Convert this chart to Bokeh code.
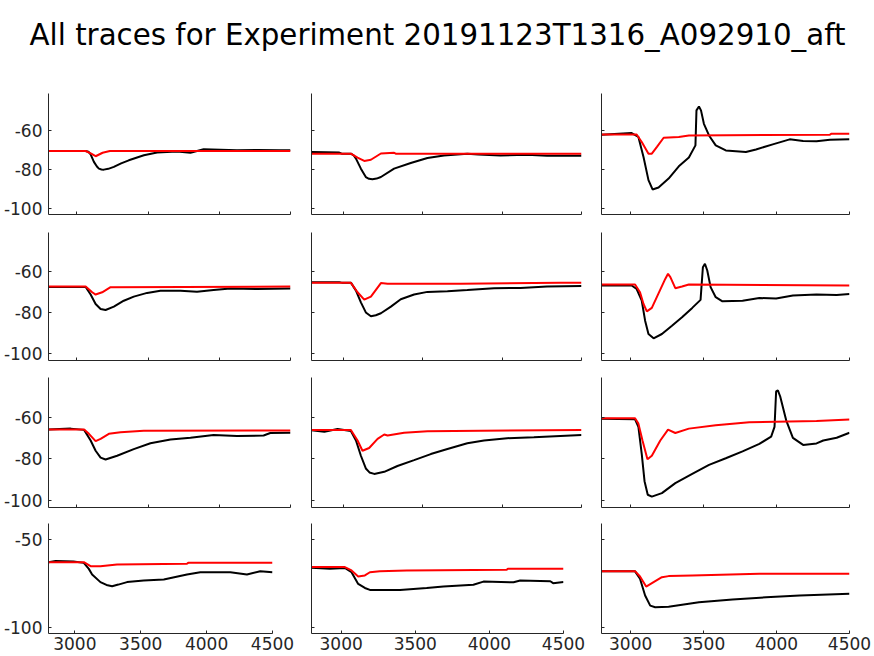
from bokeh.plotting import figure
from bokeh.layouts import column, row
from bokeh.models import FixedTicker, Range1d, Spacer
from bokeh.embed import file_html
from bokeh.resources import INLINE

TITLE = "All traces for Experiment 20191123T1316_A092910_aft"
X_TICKS = [3000, 3500, 4000, 4500]
Y_TICKS_UPPER = [-100, -80, -60]
Y_TICKS_LOWER = [-100, -50]
X_LIMITS = (2800, 4500)
Y_LIMITS = (-103.3, -41.0)

# ---- row 1 ----
r1c1_black_x = [2800, 3061, 3080, 3096, 3119, 3140, 3154, 3172, 3189, 3220, 3259, 3310, 3364, 3470, 3563, 3703, 3797, 3890, 4007, 4124, 4264, 4428, 4500]
r1c1_black_y = [-70.6, -70.6, -71.0, -72.3, -76.2, -78.6, -79.7, -80.1, -80.2, -79.8, -78.8, -77.0, -75.4, -72.8, -71.4, -70.9, -71.5, -69.7, -69.9, -70.2, -70.1, -70.2, -70.2]
r1c1_red_x = [2800, 3061, 3100, 3131, 3180, 3231, 4500]
r1c1_red_y = [-70.6, -70.6, -72.0, -73.3, -71.5, -70.6, -70.6]

r1c2_black_x = [2800, 2975, 2990, 3048, 3065, 3080, 3111, 3142, 3162, 3184, 3210, 3237, 3320, 3425, 3530, 3634, 3781, 3850, 3990, 4157, 4283, 4500]
r1c2_black_y = [-71.1, -71.4, -72.0, -72.0, -72.8, -74.5, -79.7, -84.0, -84.9, -85.1, -84.8, -84.0, -79.7, -76.8, -74.2, -72.9, -72.0, -72.4, -72.9, -72.6, -73.0, -73.0]
r1c2_red_x = [2800, 3048, 3090, 3132, 3174, 3237, 3320, 3330, 4500]
r1c2_red_y = [-72.0, -72.0, -74.0, -75.7, -75.1, -71.9, -71.5, -72.0, -72.0]

r1c3_black_x = [2800, 3007, 3053, 3088, 3122, 3150, 3191, 3260, 3330, 3399, 3444, 3451, 3468, 3482, 3502, 3537, 3583, 3652, 3790, 3859, 3974, 4090, 4182, 4274, 4366, 4500]
r1c3_black_y = [-62.2, -61.4, -63.4, -73.7, -85.6, -90.4, -89.4, -84.8, -78.5, -74.0, -67.7, -49.7, -47.7, -49.7, -56.6, -62.6, -67.7, -70.3, -71.1, -69.8, -67.2, -64.6, -65.4, -65.6, -64.8, -64.6]
r1c3_red_x = [2800, 3041, 3076, 3122, 3145, 3180, 3226, 3330, 3399, 4366, 4377, 4500]
r1c3_red_y = [-62.1, -62.1, -66.0, -72.0, -72.0, -68.5, -63.8, -63.4, -62.6, -62.2, -61.7, -61.7]

# ---- row 2 ----
r2c1_black_x = [2800, 3061, 3096, 3131, 3166, 3201, 3259, 3329, 3399, 3493, 3586, 3727, 3843, 3960, 4077, 4264, 4500]
r2c1_black_y = [-67.5, -67.5, -71.2, -75.8, -78.2, -78.7, -77.1, -74.2, -72.2, -70.4, -69.3, -69.3, -69.8, -69.0, -68.3, -68.5, -68.3]
r2c1_red_x = [2800, 3061, 3107, 3131, 3177, 3236, 4500]
r2c1_red_y = [-67.3, -67.3, -70.1, -71.2, -70.1, -67.6, -67.3]

r2c2_black_x = [2800, 2975, 2990, 3048, 3080, 3111, 3142, 3174, 3205, 3237, 3300, 3362, 3446, 3530, 3656, 3781, 3949, 4116, 4283, 4500]
r2c2_black_y = [-65.2, -65.2, -65.4, -65.4, -69.3, -75.0, -79.9, -81.8, -81.3, -80.3, -77.1, -73.5, -71.2, -69.9, -69.6, -69.0, -68.1, -68.0, -67.3, -67.0]
r2c2_red_x = [2800, 3048, 3090, 3132, 3174, 3237, 3279, 3739, 4367, 4500]
r2c2_red_y = [-65.5, -65.5, -70.1, -73.7, -72.2, -65.6, -65.9, -65.9, -65.5, -65.5]

r2c3_black_x = [2800, 3007, 3041, 3076, 3099, 3122, 3157, 3214, 3283, 3352, 3422, 3479, 3495, 3509, 3525, 3548, 3583, 3629, 3767, 3882, 3997, 4112, 4274, 4412, 4500]
r2c3_black_y = [-66.8, -66.8, -68.5, -74.2, -83.9, -90.4, -92.5, -90.4, -86.4, -82.3, -77.7, -73.8, -57.9, -56.2, -59.5, -67.6, -72.5, -74.5, -74.2, -72.9, -73.1, -71.7, -71.2, -71.4, -70.9]
r2c3_red_x = [2800, 3030, 3064, 3088, 3111, 3145, 3191, 3237, 3256, 3272, 3306, 3352, 3399, 4500]
r2c3_red_y = [-66.3, -66.3, -70.1, -75.8, -79.4, -77.7, -70.6, -63.6, -61.1, -62.7, -68.1, -67.3, -66.3, -66.8]

# ---- row 3 ----
r3c1_black_x = [2800, 2956, 3050, 3096, 3131, 3166, 3201, 3282, 3399, 3516, 3657, 3797, 3960, 4124, 4311, 4358, 4500]
r3c1_black_y = [-65.9, -65.5, -66.1, -71.2, -76.1, -79.4, -80.3, -78.5, -75.3, -72.5, -70.7, -69.9, -68.6, -69.0, -68.8, -67.6, -67.5]
r3c1_red_x = [2800, 3050, 3084, 3131, 3166, 3224, 3306, 3469, 4500]
r3c1_red_y = [-65.9, -65.9, -68.0, -71.5, -70.4, -68.0, -67.2, -66.5, -66.4]

r3c2_black_x = [2800, 2881, 2964, 3048, 3080, 3111, 3142, 3165, 3195, 3258, 3341, 3446, 3551, 3656, 3781, 3886, 4032, 4200, 4367, 4500]
r3c2_black_y = [-66.3, -67.0, -65.7, -66.6, -71.2, -78.5, -84.6, -86.5, -87.2, -86.2, -83.4, -80.6, -77.7, -75.3, -72.5, -71.2, -70.1, -69.6, -69.0, -68.6]
r3c2_red_x = [2800, 3048, 3090, 3121, 3163, 3216, 3258, 3279, 3383, 3530, 3865, 4500]
r3c2_red_y = [-66.2, -66.2, -71.2, -76.1, -74.8, -70.4, -68.3, -68.8, -67.5, -66.7, -66.5, -66.2]

r3c3_black_x = [2800, 3030, 3053, 3076, 3095, 3117, 3145, 3214, 3306, 3422, 3537, 3652, 3767, 3882, 3963, 3986, 3997, 4009, 4025, 4066, 4112, 4182, 4274, 4320, 4412, 4500]
r3c3_black_y = [-60.8, -61.0, -64.7, -77.7, -90.7, -97.2, -98.1, -96.4, -91.6, -87.2, -82.9, -79.7, -76.4, -72.8, -69.3, -64.7, -47.7, -47.2, -50.1, -61.5, -69.9, -73.3, -72.6, -71.2, -69.9, -67.5]
r3c3_red_x = [2800, 3030, 3053, 3081, 3115, 3145, 3203, 3256, 3306, 3399, 3583, 3813, 4274, 4500]
r3c3_red_y = [-60.5, -60.5, -63.1, -71.2, -80.2, -78.5, -71.2, -66.0, -67.6, -65.5, -63.9, -62.4, -61.8, -61.1]

# ---- row 4 ----
r4c1_black_x = [2800, 2854, 2990, 3068, 3106, 3131, 3194, 3240, 3283, 3330, 3396, 3523, 3675, 3851, 3952, 4180, 4306, 4407, 4500]
r4c1_black_y = [-62.9, -62.3, -62.5, -63.3, -66.7, -69.9, -74.2, -75.8, -76.5, -75.6, -74.2, -73.3, -72.7, -69.9, -68.6, -68.6, -69.9, -68.0, -68.6]
r4c1_red_x = [2800, 3068, 3119, 3194, 3320, 3851, 3860, 4500]
r4c1_red_y = [-62.9, -62.9, -65.2, -65.2, -64.2, -63.8, -63.3, -63.3]

r4c2_black_x = [2800, 2924, 3025, 3070, 3115, 3160, 3194, 3397, 3577, 3690, 3892, 3960, 4163, 4208, 4411, 4430, 4500]
r4c2_black_y = [-66.1, -66.6, -66.2, -68.6, -75.2, -77.5, -78.6, -78.6, -77.5, -76.7, -75.7, -73.9, -74.3, -73.3, -73.7, -74.8, -74.1]
r4c2_red_x = [2800, 3025, 3070, 3115, 3160, 3194, 3261, 3442, 4117, 4125, 4500]
r4c2_red_y = [-65.7, -65.7, -67.6, -71.0, -70.4, -68.6, -68.0, -67.6, -67.2, -66.6, -66.6]

r4c3_black_x = [2800, 3030, 3064, 3099, 3134, 3168, 3260, 3468, 3698, 3928, 4159, 4500]
r4c3_black_y = [-68.1, -68.1, -72.3, -81.8, -87.5, -88.4, -88.1, -85.6, -84.1, -82.8, -81.8, -80.8]
r4c3_red_x = [2800, 3030, 3064, 3106, 3157, 3214, 3260, 3422, 3882, 4500]
r4c3_red_y = [-68.0, -68.0, -71.0, -76.7, -74.2, -71.4, -70.8, -70.4, -69.5, -69.5]

FONT = "DejaVu Sans"
TEXT_COLOR = "#262626"


def make_panel(bx, by, rx, ry, fw, fh, bl, br, bt, bb, yticks, show_x, show_y):
    p = figure(frame_width=fw, frame_height=fh,
               x_range=Range1d(*X_LIMITS), y_range=Range1d(*Y_LIMITS),
               output_backend="svg", toolbar_location=None,
               min_border_left=bl, min_border_right=br,
               min_border_top=bt, min_border_bottom=bb)
    p.line(bx, by, line_color="black", line_width=2)
    p.line(rx, ry, line_color="red", line_width=2)
    p.grid.visible = False
    p.outline_line_color = None
    for ax, ticks, show in ((p.xaxis[0], X_TICKS, show_x), (p.yaxis[0], yticks, show_y)):
        ax.ticker = FixedTicker(ticks=ticks)
        ax.axis_line_color = TEXT_COLOR
        ax.axis_line_width = 1
        ax.major_tick_line_color = TEXT_COLOR
        ax.major_tick_in = 3
        ax.major_tick_out = 0
        ax.minor_tick_line_color = None
        ax.major_label_text_font = FONT
        ax.major_label_overrides = {t: str(t) for t in ticks}
        if show:
            ax.major_label_text_font_size = "17px"
            ax.major_label_text_color = TEXT_COLOR
        else:
            ax.major_label_text_font_size = "1px"
            ax.major_label_text_color = None
        ax.major_label_standoff = 0
    if show_x:
        p.xaxis[0].major_label_standoff = 3
    if show_y:
        p.yaxis[0].major_label_standoff = 6
    return p


# (frame_width, border_left, border_right) per column
COLS_UPPER = [(242, 45, 11), (270, 10, 10), (248, 10, 28)]
COLS_LOWER = [(224, 45, 29), (252, 10, 28), (248, 10, 28)]
# (frame_height, border_top, border_bottom) per row
ROWS = [(121, 9, 9), (128, 9, 8), (130, 9, 8), (110, 8, 23)]

data = [
    [(r1c1_black_x, r1c1_black_y, r1c1_red_x, r1c1_red_y),
     (r1c2_black_x, r1c2_black_y, r1c2_red_x, r1c2_red_y),
     (r1c3_black_x, r1c3_black_y, r1c3_red_x, r1c3_red_y)],
    [(r2c1_black_x, r2c1_black_y, r2c1_red_x, r2c1_red_y),
     (r2c2_black_x, r2c2_black_y, r2c2_red_x, r2c2_red_y),
     (r2c3_black_x, r2c3_black_y, r2c3_red_x, r2c3_red_y)],
    [(r3c1_black_x, r3c1_black_y, r3c1_red_x, r3c1_red_y),
     (r3c2_black_x, r3c2_black_y, r3c2_red_x, r3c2_red_y),
     (r3c3_black_x, r3c3_black_y, r3c3_red_x, r3c3_red_y)],
    [(r4c1_black_x, r4c1_black_y, r4c1_red_x, r4c1_red_y),
     (r4c2_black_x, r4c2_black_y, r4c2_red_x, r4c2_red_y),
     (r4c3_black_x, r4c3_black_y, r4c3_red_x, r4c3_red_y)],
]

title_fig = figure(width=874, height=74, output_backend="svg", toolbar_location=None,
                   title=TITLE, min_border=0,
                   x_range=Range1d(0, 1), y_range=Range1d(0, 1))
title_fig.axis.visible = False
title_fig.grid.visible = False
title_fig.outline_line_color = None
title_fig.title.align = "center"
title_fig.title.text_font = FONT
title_fig.title.text_font_size = "29.3px"
title_fig.title.text_font_style = "normal"
title_fig.title.text_color = "#000000"

rows = [Spacer(width=874, height=10), title_fig]
for ri, (fh, bt, bb) in enumerate(ROWS):
    cols = COLS_LOWER if ri == 3 else COLS_UPPER
    yticks = Y_TICKS_LOWER if ri == 3 else Y_TICKS_UPPER
    figs = []
    for ci, (fw, bl, br) in enumerate(cols):
        bx, by, rx, ry = data[ri][ci]
        figs.append(make_panel(bx, by, rx, ry, fw, fh, bl, br, bt, bb,
                               yticks, show_x=(ri == 3), show_y=(ci == 0)))
    rows.append(row(*figs, spacing=0))

layout = column(*rows, spacing=0)

open("out.html", "w").write(file_html(layout, INLINE))
